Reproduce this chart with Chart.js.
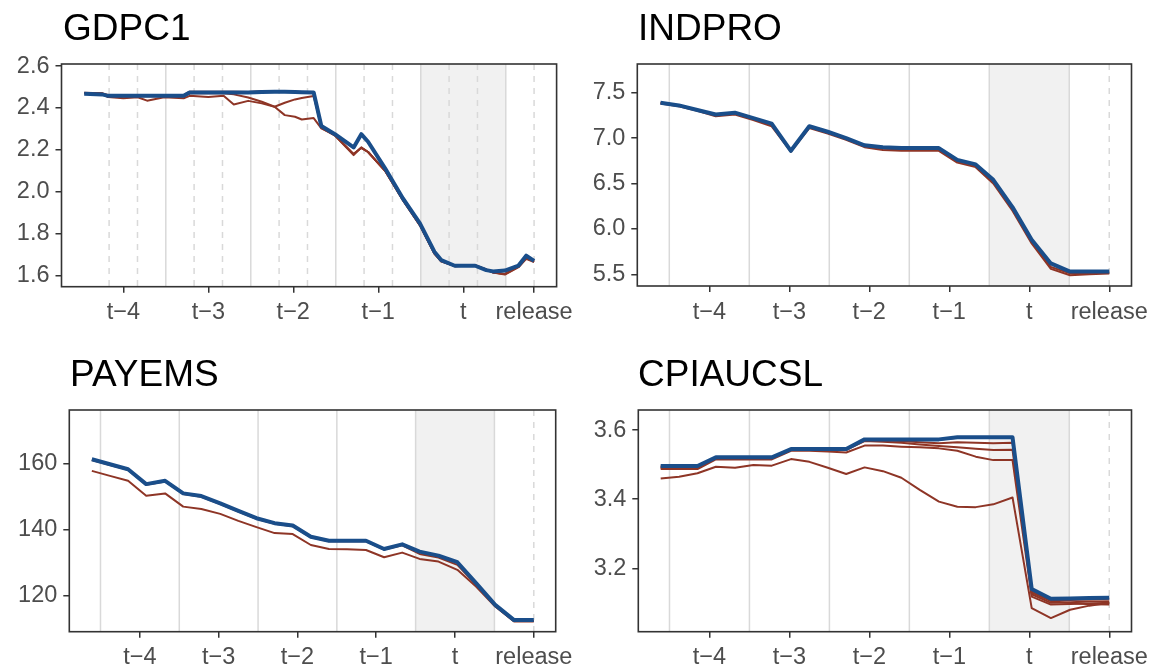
<!DOCTYPE html>
<html>
<head>
<meta charset="utf-8">
<script src="https://cdn.jsdelivr.net/npm/chart.js@4.4.0/dist/chart.umd.min.js"></script>
<style>
body { margin: 0; background: #fff; width: 1156px; height: 671px; overflow: hidden; position: relative; font-family: "Liberation Sans", Arial, sans-serif; }
.title { position: absolute; font-size: 37px; line-height: 37px; color: #000; white-space: nowrap; z-index: 2; }
canvas { position: absolute; }
</style>
</head>
<body>
<div class="title" style="left:63px;top:9px">GDPC1</div>
<div class="title" style="left:638px;top:9px">INDPRO</div>
<div class="title" style="left:70px;top:355px">PAYEMS</div>
<div class="title" style="left:638px;top:355px">CPIAUCSL</div>
<canvas id="gdp" width="581" height="290" style="left:0;top:40px"></canvas>
<canvas id="indpro" width="581" height="290" style="left:575px;top:40px"></canvas>
<canvas id="payems" width="581" height="285" style="left:0;top:386px"></canvas>
<canvas id="cpi" width="581" height="285" style="left:575px;top:386px"></canvas>
<script>
// tick labels on the quarter axis
const xLabels = ['t\u22124', 't\u22123', 't\u22122', 't\u22121', 't', 'release'];
const gdpTicks = [-4, -3, -2, -1, 0, 0.833];
const monthTicks = [-4, -3, -2, -1, 0, 1];

// GDPC1 (weekly-ish vintages)
const gdpX = [-4.46, -4.25, -4.18, -4.0, -3.83, -3.72, -3.52, -3.29, -3.22, -3.0, -2.82, -2.70, -2.53, -2.37, -2.22, -2.10, -1.98, -1.90, -1.76, -1.67, -1.51, -1.29, -1.20, -1.12, -0.92, -0.71, -0.51, -0.34, -0.26, -0.10, 0.14, 0.27, 0.35, 0.49, 0.65, 0.74, 0.833];
const gdpFinal = [2.468, 2.465, 2.458, 2.458, 2.458, 2.458, 2.458, 2.458, 2.474, 2.474, 2.474, 2.474, 2.474, 2.476, 2.477, 2.477, 2.476, 2.475, 2.474, 2.314, 2.275, 2.212, 2.275, 2.239, 2.112, 1.968, 1.849, 1.714, 1.674, 1.647, 1.647, 1.626, 1.620, 1.624, 1.648, 1.695, 1.670];
const gdpVint1 = [2.472, 2.470, 2.462, 2.462, 2.460, 2.460, 2.460, 2.462, 2.478, 2.478, 2.478, 2.477, 2.476, 2.480, 2.481, 2.480, 2.478, 2.476, 2.470, 2.305, 2.268, 2.175, 2.212, 2.190, 2.100, 1.960, 1.840, 1.705, 1.668, 1.645, 1.650, 1.630, 1.615, 1.605, 1.640, 1.680, 1.665];
const gdpVint2 = [2.473, 2.470, 2.452, 2.446, 2.451, 2.435, 2.451, 2.446, 2.458, 2.453, 2.458, 2.417, 2.434, 2.422, 2.406, 2.366, 2.358, 2.345, 2.352, 2.303, 2.270, 2.180, 2.210, 2.190, 2.100, 1.960, 1.840, 1.705, 1.668, 1.645, 1.648, 1.628, 1.615, 1.608, 1.645, 1.685, 1.668];
const gdpVint3 = [2.470, 2.466, 2.455, 2.455, 2.456, 2.456, 2.456, 2.456, 2.470, 2.472, 2.470, 2.465, 2.450, 2.430, 2.406, 2.425, 2.441, 2.448, 2.457, 2.310, 2.270, 2.180, 2.210, 2.190, 2.100, 1.962, 1.842, 1.708, 1.670, 1.646, 1.649, 1.629, 1.616, 1.607, 1.642, 1.683, 1.667];

// monthly series
const monthX = [-4.61, -4.38, -4.15, -3.92, -3.68, -3.45, -3.22, -2.98, -2.75, -2.52, -2.29, -2.06, -1.83, -1.60, -1.37, -1.13, -0.90, -0.67, -0.45, -0.21, 0.03, 0.27, 0.51, 0.75, 1.0];

const indproFinal = [7.39, 7.36, 7.31, 7.26, 7.28, 7.22, 7.16, 6.86, 7.13, 7.07, 7.00, 6.92, 6.90, 6.89, 6.89, 6.89, 6.76, 6.71, 6.54, 6.24, 5.88, 5.62, 5.53, 5.53, 5.53];
const indproVint1 = [7.38, 7.35, 7.30, 7.24, 7.26, 7.20, 7.13, 6.85, 7.11, 7.05, 6.98, 6.90, 6.87, 6.86, 6.86, 6.86, 6.73, 6.68, 6.50, 6.20, 5.84, 5.56, 5.49, 5.50, 5.51];
const indproVint2 = [7.39, 7.355, 7.305, 7.25, 7.27, 7.21, 7.15, 6.855, 7.12, 7.06, 6.99, 6.91, 6.885, 6.875, 6.875, 6.875, 6.745, 6.695, 6.52, 6.22, 5.86, 5.58, 5.51, 5.515, 5.52];

const payemsFinal = [161.2, 159.7, 158.2, 153.7, 154.7, 150.9, 150.1, 147.9, 145.6, 143.4, 141.9, 141.2, 137.8, 136.6, 136.6, 136.6, 134.1, 135.5, 133.3, 132.1, 130.1, 123.7, 117.2, 112.6, 112.6];
const payemsVint1 = [157.7, 156.2, 154.7, 150.2, 150.9, 146.9, 146.2, 144.7, 142.6, 140.7, 138.9, 138.6, 135.3, 134.1, 134.0, 133.8, 131.6, 133.0, 131.1, 130.3, 127.8, 122.7, 116.7, 112.2, 112.2];
const payemsVint2 = [161.0, 159.5, 158.0, 153.5, 154.5, 150.7, 149.9, 147.7, 145.4, 143.2, 141.7, 141.0, 137.6, 136.4, 136.4, 136.4, 133.9, 135.2, 132.6, 131.5, 129.3, 123.2, 116.9, 112.3, 112.3];

const cpiFinal = [3.496, 3.496, 3.496, 3.521, 3.521, 3.521, 3.521, 3.545, 3.545, 3.545, 3.545, 3.573, 3.573, 3.573, 3.573, 3.573, 3.579, 3.579, 3.579, 3.579, 3.140, 3.112, 3.113, 3.114, 3.115];
const cpiVint1 = [3.460, 3.465, 3.475, 3.494, 3.491, 3.499, 3.497, 3.516, 3.508, 3.491, 3.473, 3.492, 3.481, 3.462, 3.427, 3.393, 3.378, 3.377, 3.385, 3.405, 3.085, 3.056, 3.080, 3.092, 3.100];
const cpiVint2 = [3.487, 3.487, 3.487, 3.515, 3.515, 3.515, 3.515, 3.540, 3.540, 3.538, 3.535, 3.555, 3.555, 3.552, 3.550, 3.547, 3.540, 3.523, 3.513, 3.513, 3.118, 3.095, 3.097, 3.098, 3.100];
const cpiVint3 = [3.490, 3.490, 3.490, 3.518, 3.518, 3.518, 3.518, 3.543, 3.543, 3.543, 3.543, 3.568, 3.566, 3.563, 3.558, 3.554, 3.550, 3.546, 3.542, 3.543, 3.125, 3.100, 3.102, 3.104, 3.105];
const cpiVint4 = [3.493, 3.493, 3.493, 3.519, 3.519, 3.519, 3.519, 3.544, 3.544, 3.544, 3.544, 3.572, 3.570, 3.568, 3.565, 3.562, 3.565, 3.563, 3.562, 3.563, 3.130, 3.105, 3.100, 3.096, 3.095];
const cpiVint5 = [3.495, 3.495, 3.495, 3.520, 3.520, 3.520, 3.520, 3.544, 3.544, 3.544, 3.543, 3.572, 3.572, 3.572, 3.572, 3.572, 3.578, 3.578, 3.578, 3.578, 3.135, 3.108, 3.108, 3.110, 3.112];

// quarter boundaries and month marks
const quarterLines = [-4.5, -3.5, -2.5, -1.5, -0.5, 0.5];
const gdpMonthLines = [-4.167, -3.833, -3.167, -2.833, -2.167, -1.833, -1.167, -0.833, -0.167, 0.167, 0.833];

const BLUE = '#1a4e8a';
const RED = '#8e3526';
const FONT = '"Liberation Sans", Arial, sans-serif';

const bandsPlugin = {
    id: 'bands',
    beforeDatasetsDraw(chart, args, opts) {
        const { ctx, chartArea: a, scales: { x } } = chart;
        ctx.save();
        ctx.beginPath();
        ctx.rect(a.left, a.top, a.width, a.height);
        ctx.clip();
        const s0 = x.getPixelForValue(-0.5), s1 = x.getPixelForValue(0.5);
        ctx.fillStyle = '#f1f1f1';
        ctx.fillRect(s0, a.top, s1 - s0, a.height);
        ctx.strokeStyle = '#d9d9d9';
        ctx.lineWidth = 1.5;
        opts.solid.forEach(v => {
            const px = x.getPixelForValue(v);
            ctx.beginPath(); ctx.moveTo(px, a.top); ctx.lineTo(px, a.bottom); ctx.stroke();
        });
        ctx.setLineDash([6, 6]);
        opts.dashed.forEach(v => {
            const px = x.getPixelForValue(v);
            ctx.beginPath(); ctx.moveTo(px, a.top); ctx.lineTo(px, a.bottom); ctx.stroke();
        });
        ctx.restore();
    },
    afterDatasetsDraw(chart) {
        const { ctx, chartArea: a } = chart;
        ctx.save();
        ctx.strokeStyle = '#333333';
        ctx.lineWidth = 1.6;
        ctx.strokeRect(a.left, a.top, a.width, a.height);
        ctx.restore();
    }
};

function series(xs, ys, final) {
    return {
        data: xs.map((x, i) => ({ x: x, y: ys[i] })),
        borderColor: final ? BLUE : RED,
        borderWidth: final ? 4 : 2,
        pointRadius: 0,
        tension: 0,
        borderJoinStyle: 'round',
        order: final ? 0 : 1
    };
}

function makePanel(id, cfg) {
    const tickStyle = { color: '#4d4d4d', font: { family: FONT, size: 23.5 } };
    const gridStyle = { drawOnChartArea: false, drawTicks: true, tickLength: 6, color: '#333333', lineWidth: 1.5 };
    new Chart(document.getElementById(id), {
        type: 'line',
        data: {
            datasets: [series(cfg.x, cfg.final, true)].concat(cfg.vintages.map(v => series(cfg.x, v, false)))
        },
        options: {
            responsive: false,
            animation: false,
            devicePixelRatio: 1,
            layout: { padding: { top: 24, right: cfg.padRight, left: 0, bottom: 0 } },
            plugins: {
                legend: { display: false },
                tooltip: { enabled: false },
                bands: { solid: cfg.solid, dashed: cfg.dashed }
            },
            scales: {
                x: {
                    type: 'linear',
                    min: cfg.xMin,
                    max: cfg.xMax,
                    afterBuildTicks: s => { s.ticks = cfg.xTicks.map(v => ({ value: v })); },
                    afterFit: s => { s.height = cfg.xHeight; },
                    ticks: Object.assign({ autoSkip: false, maxRotation: 0, minRotation: 0, padding: 6,
                        callback: (v, i) => xLabels[i] }, tickStyle),
                    grid: gridStyle,
                    border: { display: false }
                },
                y: {
                    type: 'linear',
                    min: cfg.yMin,
                    max: cfg.yMax,
                    afterBuildTicks: s => { s.ticks = cfg.yTicks.map(v => ({ value: v })); },
                    afterFit: s => { s.width = cfg.yWidth; },
                    ticks: Object.assign({ padding: 6, callback: v => v.toFixed(cfg.dec) }, tickStyle),
                    grid: gridStyle,
                    border: { display: false }
                }
            }
        },
        plugins: [bandsPlugin]
    });
}

makePanel('gdp', {
    x: gdpX, final: gdpFinal, vintages: [gdpVint1, gdpVint2, gdpVint3],
    xMin: -4.727, xMax: 1.098, xTicks: gdpTicks, yMin: 1.547, yMax: 2.61,
    yTicks: [1.6, 1.8, 2.0, 2.2, 2.4, 2.6], dec: 1,
    solid: [-3.5, -2.5, -1.5, -0.5, 0.5], dashed: gdpMonthLines,
    yWidth: 61.5, padRight: 24.4, xHeight: 43.3
});
makePanel('indpro', {
    x: monthX, final: indproFinal, vintages: [indproVint1, indproVint2],
    xMin: -4.9, xMax: 1.278, xTicks: monthTicks, yMin: 5.371, yMax: 7.816,
    yTicks: [5.5, 6.0, 6.5, 7.0, 7.5], dec: 1,
    solid: quarterLines, dashed: [1],
    yWidth: 62.3, padRight: 24.5, xHeight: 44
});
makePanel('payems', {
    x: monthX, final: payemsFinal, vintages: [payemsVint1, payemsVint2],
    xMin: -4.896, xMax: 1.278, xTicks: monthTicks, yMin: 109.1, yMax: 176.1,
    yTicks: [120, 140, 160], dec: 0,
    solid: quarterLines, dashed: [1],
    yWidth: 69.3, padRight: 25.3, xHeight: 39.3
});
makePanel('cpi', {
    x: monthX, final: cpiFinal, vintages: [cpiVint1, cpiVint2, cpiVint3, cpiVint4, cpiVint5],
    xMin: -4.89, xMax: 1.278, xTicks: monthTicks, yMin: 3.0166, yMax: 3.658,
    yTicks: [3.2, 3.4, 3.6], dec: 1,
    solid: quarterLines, dashed: [1],
    yWidth: 63.3, padRight: 24.5, xHeight: 39.3
});
</script>
</body>
</html>
